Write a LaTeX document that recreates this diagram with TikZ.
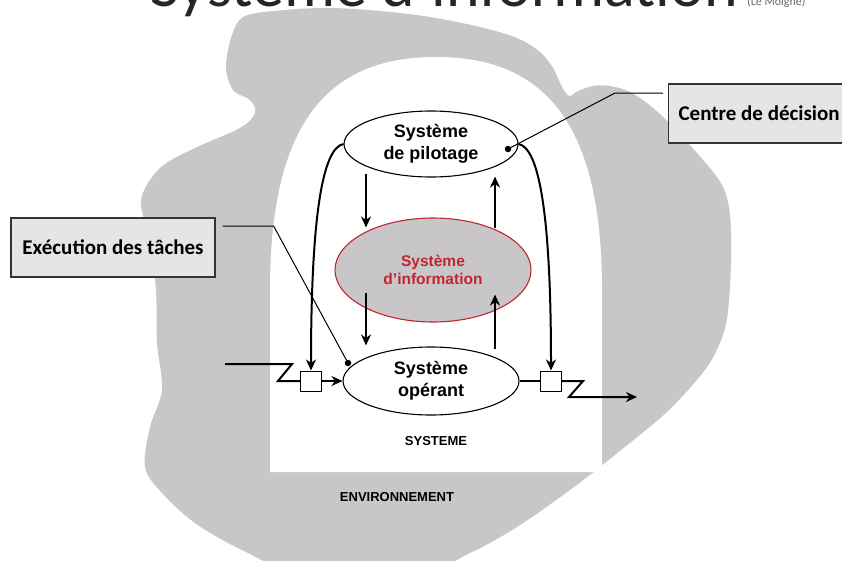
\documentclass[tikz,border=0pt]{standalone}
\usepackage{fontspec}
\setmainfont{Liberation Sans}
\newfontfamily\carl{Carlito}
\usetikzlibrary{arrows.meta,shapes.geometric,calc}
\definecolor{envgray}{RGB}{200,198,200}
\definecolor{lightbox}{RGB}{230,229,230}
\definecolor{sired}{RGB}{192,39,45}
\tikzset{
  ell/.style={ellipse, draw, line width=1.1pt, fill=white, inner sep=0pt, align=center,
    font=\bfseries\fontsize{18}{21.6}\selectfont},
  arr/.style={line width=2pt, -{Stealth[length=11pt,width=10pt,inset=3.5pt]}},
  flow/.style={line width=2pt},
  smallbox/.style={draw, line width=1pt, fill=white, minimum width=21, minimum height=20, inner sep=0pt},
  lbl/.style={draw=black!80, line width=1.2pt, fill=lightbox, inner sep=0pt, minimum height=59,
    font=\carl\bfseries\fontsize{21}{25}\selectfont},
  thinline/.style={line width=1pt},
  dotst/.style={circle, fill=black, inner sep=0pt, minimum size=6.5},
  caption/.style={font=\bfseries\fontsize{13}{15}\selectfont}
}
\begin{document}
\begin{tikzpicture}[x=1pt,y=-1pt]
\useasboundingbox (0,0) rectangle (842,560);
\clip (0,0) rectangle (842,560);
% title (cut at the top, as in the reference)
\node[anchor=base west, font=\carl\fontsize{64}{70}\selectfont, text=black!85, inner sep=0pt] (title) at (150,6) {Système d’information};
\node[anchor=base west, font=\carl\fontsize{12}{14}\selectfont, text=black!60, inner sep=0pt] (author) at (747,5) {(Le Moigne)};
% environment blob
\fill[envgray] plot[smooth cycle, tension=0.55] coordinates {
 (245,16) (285,10) (330,8) (380,11) (430,17) (480,27) (517,38) (540,52) (553,68) (561,85) (569,96)
 (578,91) (593,86) (610,86) (632,93) (660,114) (697,153) (722,185) (730,215) (731,260) (729,300)
 (724,332) (707,367) (669,410) (621,450) (574,487) (517,527) (470,553) (420,572) (300,572)
 (242,550) (195,523) (162,493) (145,467) (150,427) (162,390) (157,343) (156,290) (150,240)
 (141,200) (160,168) (195,148) (240,128) (255,113) (250,100) (233,90) (226,67) (232,35)};
% system arch
\fill[white] (270,472) -- (270,290) .. controls (270,120) and (330,57) .. (436,57)
  .. controls (542,57) and (602,120) .. (602,290) -- (602,472) -- cycle;
\node[caption] (sys) at (436,441) {SYSTEME};
\node[caption] (env) at (397,497) {ENVIRONNEMENT};
% ellipses
\node[ell, minimum width=174, minimum height=66] (pil) at (431,144) {Système\\de pilotage};
\node[ell, minimum width=196, minimum height=104, fill=envgray, draw=sired, text=sired,
  font=\bfseries\fontsize{15.5}{18.5}\selectfont] (info) at (433,270) {Système\\d’information};
\node[ell, minimum width=176, minimum height=68] (oper) at (431,381) {Système\\opérant};
% small boxes
\node[smallbox] (lbox) at (311,381) {};
\node[smallbox] (rbox) at (551,381) {};
% vertical arrows between ellipses
\draw[arr] ([xshift=-65pt,yshift=4pt]pil.south) -- ([xshift=-67pt,yshift=-10pt]info.north);
\draw[arr] ([xshift=62pt,yshift=-11pt]info.north) -- ([xshift=64pt,yshift=1pt]pil.south);
\draw[arr] ([xshift=-67pt,yshift=30pt]info.south) -- ([xshift=-65pt,yshift=1pt]oper.north);
\draw[arr] ([xshift=64pt,yshift=-3pt]oper.north) -- ([xshift=62pt,yshift=28pt]info.south);
% control curves
\draw[arr] (pil.west) .. controls (322,148) and (311,220) .. (lbox.north);
\draw[arr] (pil.east) .. controls (540,148) and (551,220) .. (rbox.north);
% input flow
\coordinate (inflow) at (225,364);
\draw[flow] (inflow) -- ++(67,0) -- ++(-14,17) -- (lbox.west);
\draw[arr] (lbox.east) -- (oper.west);
% output flow
\coordinate (outflow) at (637,397);
\draw[flow] (oper.east) -- (rbox.west);
\draw[arr] (rbox.east) -- ++(21,0) -- ++(-14,16) -- (outflow);
% label boxes
\node[lbl, minimum width=204] (exec) at (113,247.5) {Exécution des tâches};
\node[lbl, anchor=west, inner xsep=10pt] (cdec) at (668,113.5) {Centre de décision\hspace{24pt}};
\node[dotst] (dot1) at (348,363) {};
\node[dotst] (dot2) at (508,149) {};
\draw[thinline] ([xshift=7pt,yshift=21.5pt]exec.east) -- ++(51,0) -- (dot1);
\draw[thinline] ([xshift=-5pt,yshift=20.5pt]cdec.west) -- ++(-48,0) -- (dot2);
\end{tikzpicture}
\end{document}
